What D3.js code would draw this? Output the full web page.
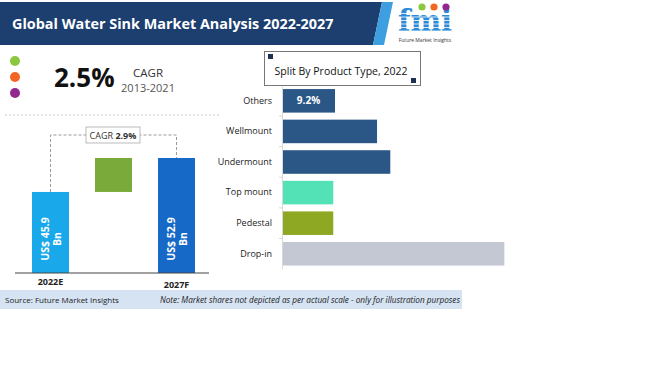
<!DOCTYPE html>
<html>
<head>
<meta charset="utf-8">
<script src="https://cdn.jsdelivr.net/npm/d3@7"></script>
<style>
  body { margin: 0; background: #fff; }
  svg { display: block; font-family: "Open Sans", "DejaVu Sans", sans-serif; }
</style>
</head>
<body>
<svg id="chart" width="650" height="365"></svg>
<script>
// waterfall data
var wf_keys = ["2022E", "growth", "2027F"];
var wf_labels = ["2022E", "2027F"];
var wf_start = 45.9;
var wf_end = 52.9;
var wf_text = ["US$ 45.9", "Bn"];
var wf_text_end = ["US$ 52.9", "Bn"];
var cagr_hist = "2.5%";
var cagr_hist_years = "2013-2021";
var cagr_fcst = "2.9%";

// split by product type data (share %, 2022)
var product_types = ["Others", "Wellmount", "Undermount", "Top mount", "Pedestal", "Drop-in"];
var product_share = [9.2, 16.5, 18.8, 8.9, 8.9, 38.6];
var product_colours = ["#2b5787", "#2b5787", "#2b5787", "#52e2b5", "#8fa824", "#c3c8d3"];

var svg = d3.select("#chart");

// ---- header ----
svg.append("polygon").attr("points", "0,2 382,2 373,45 0,45").attr("fill", "#1d3f6f");
svg.append("polygon").attr("points", "382,2 393,2 384,45 373,45").attr("fill", "#3d9fe0");
svg.append("text").attr("x", 12).attr("y", 29)
    .attr("fill", "#fff").attr("font-weight", 700).attr("font-size", 14.4)
    .text("Global Water Sink Market Analysis 2022-2027");

// logo
var logo = svg.append("g");
logo.append("text").attr("x", 425).attr("y", 31).attr("text-anchor", "middle")
    .attr("font-family", "DejaVu Serif, serif").attr("font-weight", 700).attr("font-size", 29)
    .attr("fill", "#2d8ad6").text("fmi");
for (var s = 0; s < 6; s++) {
    logo.append("rect").attr("x", 395).attr("y", 13 + s * 3.5).attr("width", 62).attr("height", 1)
        .attr("fill", "#fff").attr("opacity", 0.8);
}
[["#8dc63f", 422], ["#f26522", 434], ["#92278f", 446]].forEach(function(c) {
    logo.append("circle").attr("cx", c[1]).attr("cy", 7).attr("r", 3.6).attr("fill", c[0]);
});
logo.append("text").attr("x", 425).attr("y", 42).attr("text-anchor", "middle")
    .attr("font-size", 5).attr("fill", "#333").text("Future Market Insights");

// ---- historical CAGR ----
[["#8dc63f", 61], ["#f26522", 77], ["#92278f", 93]].forEach(function(c) {
    svg.append("circle").attr("cx", 15).attr("cy", c[1]).attr("r", 5).attr("fill", c[0]);
});
svg.append("text").attr("x", 54).attr("y", 87).attr("font-weight", 700).attr("font-size", 26)
    .attr("fill", "#111").text(cagr_hist);
svg.append("text").attr("x", 148).attr("y", 77).attr("text-anchor", "middle").attr("font-size", 11.5)
    .attr("fill", "#333").text("CAGR");
svg.append("text").attr("x", 148).attr("y", 92).attr("text-anchor", "middle").attr("font-size", 11)
    .attr("fill", "#555").text(cagr_hist_years);
svg.append("line").attr("x1", 5).attr("x2", 220).attr("y1", 115).attr("y2", 115)
    .attr("stroke", "#ccc").attr("stroke-dasharray", "2,2");

// ---- waterfall ----
var x_wf = d3.scaleBand().domain(wf_keys).range([19.4, 207.6]).paddingInner(0.413).paddingOuter(0.2);
var y_wf = d3.scaleLinear().domain([29.2, 52.9]).range([273, 158]);

var wf_bars = [
    {key: "2022E", y0: y_wf.domain()[0], y1: wf_start, fill: "#19a8ea"},
    {key: "growth", y0: wf_start, y1: wf_end, fill: "#7aab3a"},
    {key: "2027F", y0: y_wf.domain()[0], y1: wf_end, fill: "#1669c6"}
];
svg.append("g").selectAll("rect").data(wf_bars).enter().append("rect")
    .attr("x", d => x_wf(d.key)).attr("width", x_wf.bandwidth())
    .attr("y", d => y_wf(d.y1)).attr("height", d => y_wf(d.y0) - y_wf(d.y1))
    .attr("fill", d => d.fill);

// rotated value labels
[["2022E", wf_text], ["2027F", wf_text_end]].forEach(function(p) {
    var cx = x_wf(p[0]) + x_wf.bandwidth() / 2;
    var cy = 239;
    var t = svg.append("text").attr("transform", `translate(${cx},${cy}) rotate(-90)`)
        .attr("text-anchor", "middle").attr("fill", "#fff").attr("font-weight", 700).attr("font-size", 10.5);
    t.append("tspan").attr("x", 0).attr("dy", "-0.15em").text(p[1][0]);
    t.append("tspan").attr("x", 0).attr("dy", "1.15em").text(p[1][1]);
});

// baseline and axis labels
svg.append("line").attr("x1", 15).attr("x2", 209).attr("y1", 273).attr("y2", 273)
    .attr("stroke", "#444").attr("stroke-width", 1);
var xAxis_wf = svg.append("g").attr("transform", "translate(0,273)")
    .call(d3.axisBottom(x_wf).tickValues(wf_labels).tickSize(0).tickPadding(6));
xAxis_wf.select(".domain").remove();
xAxis_wf.selectAll("text").attr("font-family", "Open Sans, sans-serif").attr("font-size", 9)
    .attr("font-weight", 700).attr("fill", "#222");
xAxis_wf.selectAll(".tick").filter(d => d == "2027F").select("text").attr("dy", "1.0em");

// CAGR connector
var c1 = x_wf("2022E") + x_wf.bandwidth() / 2, c2 = x_wf("2027F") + x_wf.bandwidth() / 2;
svg.append("path")
    .attr("d", `M${c1},${y_wf(wf_start)} V135 H${c2} V${y_wf(wf_end)}`)
    .attr("fill", "none").attr("stroke", "#9a9a9a").attr("stroke-dasharray", "3,2");
svg.append("rect").attr("x", 86).attr("y", 127).attr("width", 54).attr("height", 16)
    .attr("fill", "#fff").attr("stroke", "#aaa").attr("stroke-width", 0.8);
var ct = svg.append("text").attr("x", 113).attr("y", 139).attr("text-anchor", "middle")
    .attr("font-size", 9).attr("fill", "#333");
ct.append("tspan").text("CAGR ");
ct.append("tspan").attr("font-weight", 700).text(cagr_fcst);

// ---- split by product type ----
svg.append("rect").attr("x", 264.5).attr("y", 51.5).attr("width", 156).attr("height", 34)
    .attr("fill", "#fff").attr("stroke", "#777").attr("stroke-width", 1);
svg.append("rect").attr("x", 268).attr("y", 54).attr("width", 5).attr("height", 5).attr("fill", "#1d3050");
svg.append("rect").attr("x", 411).attr("y", 78).attr("width", 5).attr("height", 5).attr("fill", "#1d3050");
svg.append("text").attr("x", 341).attr("y", 75).attr("text-anchor", "middle").attr("font-size", 10.5)
    .attr("fill", "#111").text("Split By Product  Type, 2022");

var x_pt = d3.scaleLinear().domain([0, 40]).range([282, 512.4]);
var y_pt = d3.scaleBand().domain(product_types).range([86, 268.6]).paddingInner(0.23).paddingOuter(0.1);

svg.append("g").selectAll("rect").data(product_types).enter().append("rect")
    .attr("x", x_pt(0)).attr("y", d => y_pt(d))
    .attr("width", (d, i) => x_pt(product_share[i]) - x_pt(0))
    .attr("height", y_pt.bandwidth())
    .attr("fill", (d, i) => product_colours[i]);

svg.append("text").attr("x", x_pt(0) + (x_pt(product_share[0]) - x_pt(0)) / 2)
    .attr("y", y_pt("Others") + y_pt.bandwidth() / 2).attr("dy", "0.35em")
    .attr("text-anchor", "middle").attr("fill", "#fff").attr("font-weight", 700).attr("font-size", 10)
    .text(product_share[0] + "%");

var yAxis_pt = svg.append("g").attr("transform", `translate(${x_pt(0)},0)`)
    .call(d3.axisLeft(y_pt).tickSize(0).tickPadding(10));
yAxis_pt.select(".domain").attr("stroke", "#d9d9d9");
yAxis_pt.selectAll("text").attr("font-family", "Open Sans, sans-serif").attr("font-size", 9).attr("fill", "#222");
// boundary ticks
var bounds = product_types.slice(1).map(d => y_pt(d) - y_pt.step() * y_pt.paddingInner() / 2);
svg.append("g").selectAll("line").data(bounds).enter().append("line")
    .attr("x1", x_pt(0) - 3).attr("x2", x_pt(0)).attr("y1", d => d).attr("y2", d => d)
    .attr("stroke", "#d9d9d9");

// ---- source band ----
svg.append("rect").attr("x", 0).attr("y", 290).attr("width", 462).attr("height", 19).attr("fill", "#d5e3f3");
svg.append("text").attr("x", 5).attr("y", 303).attr("font-size", 8).attr("fill", "#222")
    .text("Source: Future Market Insights");
svg.append("text").attr("x", 160).attr("y", 303).attr("font-size", 8.2).attr("font-style", "italic")
    .attr("fill", "#222").text("Note: Market shares not depicted as per actual scale - only for illustration purposes");
</script>
</body>
</html>
